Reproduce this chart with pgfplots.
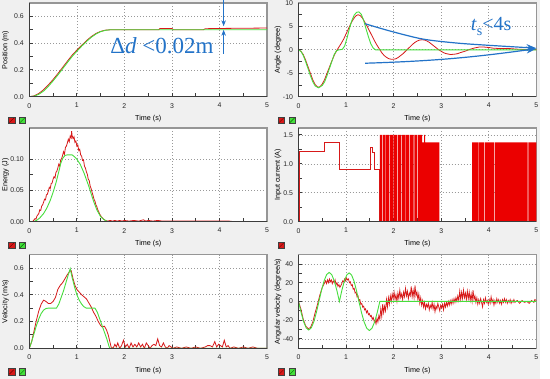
\documentclass[border=0pt]{standalone}
\usepackage{fontspec}
\setmainfont{Liberation Sans}
\newfontfamily\annotfont{Liberation Serif}
\usepackage{pgfplots}
\pgfplotsset{compat=1.18}
\usetikzlibrary{arrows.meta}
\definecolor{cred}{RGB}{215,25,25}
\definecolor{cfill}{RGB}{235,0,0}
\definecolor{cgreen}{RGB}{70,222,60}
\definecolor{cblue}{RGB}{35,115,200}
\definecolor{bg}{RGB}{240,240,240}
\definecolor{framegray}{RGB}{150,150,150}
\definecolor{axdark}{RGB}{60,60,60}
\tikzset{annot/.style={cblue, line width=1.2pt}}
\pgfplotsset{
  panel/.style={
    scale only axis, width=237.8pt, height=93.7pt, anchor=south west,
    xmin=0, xmax=5, xtick={0,1,2,3,4,5}, minor x tick num=1, minor y tick num=1,
    tick align=inside, tick pos=left,
    major tick length=3.5pt, minor tick length=3.5pt,
    every tick/.style={draw=axdark, line width=0.9pt},
    grid=major,
    major grid style={draw=gray!80, line width=0.7pt, dash pattern=on 0.8pt off 2.2pt},
    axis line style={draw=framegray, line width=1.2pt},
    axis background/.style={fill=white},
    ticklabel style={font=\fontsize{6.9}{8}\selectfont, text=black!85},
    xticklabel style={yshift=-3pt},
    yticklabel style={xshift=-2pt},
    /pgf/number format/assume math mode=true,
    xlabel={Time (s)},
    xlabel style={font=\fontsize{7.2}{8}\selectfont, at={(axis description cs:0.5,-0.238)}, anchor=center},
    ylabel style={font=\fontsize{7.2}{8}\selectfont, anchor=center},
    clip mode=individual,
    legend columns=2,
    legend style={draw=none, fill=none, inner sep=0pt, outer sep=0pt, anchor=north west,
      nodes={inner sep=0pt, outer sep=0pt},
      /tikz/every even column/.append style={column sep=2.6pt}},
    after end axis/.code={\draw[axdark, line width=1.2pt] (rel axis cs:0,1) -- (rel axis cs:0,0) -- (rel axis cs:1,0);},
  },
  leftcol/.style={panel, ylabel style={at={(axis description cs:-0.1,0.5)}},
    legend style={at={(axis description cs:-0.0897,-0.214)}}},
  rightcol/.style={panel, ylabel style={at={(axis description cs:-0.086,0.5)}},
    legend style={at={(axis description cs:-0.0873,-0.214)}}},
  redleg/.style={legend image code/.code={
    \filldraw[fill=cred, draw=black!75, line width=0.6pt] (0pt,-3.3pt) rectangle (6.6pt,3.3pt);
    \draw[red!40!black, line width=0.4pt] (1pt,-2.3pt) -- (5.6pt,2.3pt);}},
  greenleg/.style={legend image code/.code={
    \filldraw[fill=cgreen, draw=black!75, line width=0.6pt] (0pt,-3.3pt) rectangle (6.6pt,3.3pt);
    \draw[green!40!black, line width=0.4pt] (1pt,-2.3pt) -- (5.6pt,2.3pt);}},
  rline/.style={cred, line width=0.8pt},
  gline/.style={cgreen, line width=0.9pt},
}
\begin{document}
\begin{tikzpicture}[x=1pt,y=1pt]
\path[use as bounding box, fill=bg] (0,0) rectangle (550,-379);
\fill[white] (539.5,0) rectangle (550,-379);

% ---------- Position ----------
\begin{axis}[leftcol, at={(29.3pt,-96.7pt)}, ymin=0, ymax=0.7, ytick={0,0.2,0.4,0.6},
  ylabel={Position (m)},
  yticklabel style={/pgf/number format/fixed, /pgf/number format/fixed zerofill, /pgf/number format/precision=1}]
\addplot[rline, redleg] coordinates {(0,0) (0.1,0.006) (0.2,0.024) (0.3,0.052) (0.4,0.088) (0.5,0.128) (0.6,0.172) (0.7,0.218) (0.8,0.265) (0.9,0.31) (1.0,0.348) (1.1,0.383) (1.2,0.418) (1.3,0.448) (1.4,0.472) (1.5,0.488) (1.6,0.497) (1.7,0.5) (2.72,0.5) (2.75,0.51) (3.0,0.51) (3.03,0.5) (3.66,0.5) (3.7,0.508) (4.05,0.51) (5,0.513)};
\addlegendentry{\mbox{}}
\addplot[gline, greenleg] coordinates {(0,0) (0.1,0.004) (0.2,0.018) (0.3,0.042) (0.4,0.077) (0.5,0.118) (0.6,0.162) (0.7,0.208) (0.8,0.255) (0.9,0.3) (1.0,0.34) (1.1,0.377) (1.2,0.412) (1.3,0.443) (1.4,0.468) (1.5,0.486) (1.6,0.496) (1.7,0.5) (5,0.5)};
\addlegendentry{\mbox{}}
\draw[annot, -{Stealth[length=6pt,width=4.5pt]}] (axis cs:4.086,0.73) -- (axis cs:4.086,0.526);
\draw[annot, -{Stealth[length=6pt,width=4.5pt]}] (axis cs:4.086,0.32) -- (axis cs:4.086,0.5);
\node[anchor=base west, inner sep=0pt, text=cblue, font=\annotfont\fontsize{23}{23}\selectfont] at (axis cs:1.70,0.323) {Δ\textit{d} <0.02m};
\end{axis}

% ---------- Angle ----------
\begin{axis}[rightcol, at={(298.5pt,-96.7pt)}, ymin=-10, ymax=10, ytick={-10,-5,0,5,10},
  ylabel={Angle (degree)}]
\addplot[rline, redleg] coordinates {(0,0) (0.05,-0.3) (0.1,-1.0) (0.15,-2.2) (0.2,-3.6) (0.25,-5.0) (0.3,-6.4) (0.35,-7.4) (0.4,-7.95) (0.45,-7.9) (0.5,-7.3) (0.55,-6.3) (0.6,-5.0) (0.65,-3.7) (0.7,-2.4) (0.75,-1.2) (0.8,-0.2) (0.85,0.6) (0.9,1.4) (0.95,2.3) (1.0,3.4) (1.05,4.5) (1.1,5.6) (1.15,6.5) (1.2,7.2) (1.25,7.5) (1.3,7.3) (1.35,6.7) (1.4,5.8) (1.45,4.9) (1.5,3.9) (1.55,2.9) (1.6,1.9) (1.65,1.0) (1.7,0.2) (1.75,-0.6) (1.8,-1.2) (1.85,-1.6) (1.9,-1.9) (1.95,-2.0) (2.0,-2.0) (2.05,-1.9) (2.1,-1.6) (2.15,-1.2) (2.2,-0.8) (2.25,-0.3) (2.3,0.2) (2.35,0.7) (2.4,1.2) (2.45,1.6) (2.5,1.9) (2.55,2.1) (2.6,2.15) (2.65,2.1) (2.7,1.9) (2.75,1.6) (2.8,1.2) (2.85,0.8) (2.9,0.4) (2.95,0.0) (3.0,-0.3) (3.05,-0.6) (3.1,-0.8) (3.15,-0.9) (3.2,-1.0) (3.3,-0.9) (3.35,-0.8) (3.4,-0.6) (3.5,-0.3) (3.6,0.1) (3.7,0.4) (3.8,0.6) (3.9,0.6) (4.0,0.5) (4.1,0.35) (4.2,0.3) (4.4,0.3) (4.6,0.15) (4.8,0.05) (5,0.05)};
\addlegendentry{\mbox{}}
\addplot[gline, greenleg] coordinates {(0,0) (0.05,-0.3) (0.1,-1.2) (0.15,-2.5) (0.2,-4.0) (0.25,-5.5) (0.3,-6.8) (0.35,-7.7) (0.42,-8.1) (0.5,-7.6) (0.55,-6.8) (0.6,-5.5) (0.65,-4.0) (0.7,-2.5) (0.75,-1.0) (0.8,-0.2) (0.85,0) (0.92,0.1) (0.97,0.8) (1.02,2.5) (1.07,4.5) (1.12,6.2) (1.17,7.4) (1.22,8.0) (1.27,8.1) (1.32,7.6) (1.37,6.3) (1.42,4.5) (1.47,2.8) (1.52,1.3) (1.57,0.4) (1.62,0) (5,0)};
\addlegendentry{\mbox{}}
\draw[annot, -{Stealth[length=10pt,width=7pt]}] plot[smooth] coordinates {(axis cs:1.40,5.57) (axis cs:1.96,3.92) (axis cs:2.62,2.29) (axis cs:3.35,1.43) (axis cs:4.06,0.93) (axis cs:4.6,0.6) (axis cs:5.0,0.35)};
\draw[annot, -{Stealth[length=10pt,width=7pt]}] (axis cs:1.40,-2.86) to[bend right=3] (axis cs:5.0,0.25);
\node[anchor=base west, inner sep=0pt, text=cblue, font=\annotfont\fontsize{20}{20}\selectfont] at (axis cs:3.62,4.1) {\textit{t}\raisebox{-0.26em}{\fontsize{14}{14}\selectfont s}<4s};
\end{axis}

% ---------- Energy ----------
\begin{axis}[leftcol, at={(29.3pt,-221.7pt)}, ymin=0, ymax=0.15, ytick={0,0.05,0.10},
  ylabel={Energy (J)},
  yticklabel style={/pgf/number format/fixed, /pgf/number format/fixed zerofill, /pgf/number format/precision=2}]
\addplot[rline, redleg] coordinates {(0,0) (0.06,0) (0.08,0.001) (0.10,0.003) (0.12,0.005) (0.14,0.004) (0.16,0.009) (0.18,0.011) (0.20,0.013) (0.22,0.019) (0.24,0.018) (0.26,0.025) (0.28,0.027) (0.30,0.031) (0.32,0.036) (0.34,0.035) (0.36,0.043) (0.38,0.044) (0.40,0.049) (0.42,0.055) (0.44,0.053) (0.46,0.061) (0.48,0.062) (0.50,0.068) (0.52,0.072) (0.54,0.070) (0.56,0.079) (0.58,0.081) (0.60,0.086) (0.62,0.092) (0.64,0.089) (0.66,0.099) (0.68,0.101) (0.70,0.106) (0.72,0.112) (0.74,0.108) (0.76,0.119) (0.78,0.121) (0.80,0.126) (0.82,0.132) (0.84,0.128) (0.86,0.137) (0.88,0.134) (0.89,0.145) (0.90,0.138) (0.92,0.133) (0.94,0.136) (0.96,0.127) (0.98,0.129) (1.00,0.121) (1.02,0.123) (1.04,0.114) (1.06,0.116) (1.08,0.107) (1.10,0.105) (1.12,0.098) (1.14,0.099) (1.16,0.089) (1.18,0.086) (1.20,0.080) (1.22,0.076) (1.24,0.068) (1.26,0.066) (1.28,0.057) (1.30,0.053) (1.32,0.047) (1.34,0.042) (1.36,0.036) (1.38,0.033) (1.40,0.027) (1.42,0.024) (1.44,0.019) (1.46,0.016) (1.48,0.012) (1.50,0.010) (1.52,0.007) (1.54,0.006) (1.56,0.004) (1.58,0.003) (1.60,0.002) (1.65,0.001) (1.70,0.002) (1.75,0.001) (1.8,0.002) (1.85,0.001) (1.9,0.002) (1.95,0.001) (2.0,0.002) (2.1,0.001) (2.2,0.002) (2.3,0.001) (2.4,0.003) (2.45,0.001) (2.5,0.002) (2.6,0.001) (2.7,0.002) (2.8,0.001) (3.0,0.001) (3.2,0.001) (3.5,0.001) (3.8,0.001) (4.0,0.001) (4.2,0.001) (4.3,0) (5,0)};
\addlegendentry{\mbox{}}
\addplot[gline, greenleg] coordinates {(0,0) (0.08,0) (0.15,0.002) (0.22,0.006) (0.3,0.013) (0.37,0.022) (0.44,0.034) (0.5,0.047) (0.56,0.062) (0.62,0.08) (0.66,0.093) (0.7,0.101) (0.75,0.106) (0.8,0.107) (0.9,0.107) (0.95,0.104) (1.0,0.1) (1.07,0.092) (1.15,0.078) (1.25,0.057) (1.35,0.033) (1.42,0.019) (1.5,0.008) (1.56,0.004) (1.62,0.001) (1.67,0) (5,0)};
\addlegendentry{\mbox{}}
\end{axis}

% ---------- Input current ----------
\begin{axis}[rightcol, at={(298.5pt,-221.7pt)}, ymin=0, ymax=1.62, ytick={0,0.5,1,1.5},
  ylabel={Input current (A)},
  yticklabel style={/pgf/number format/fixed, /pgf/number format/fixed zerofill, /pgf/number format/precision=1}]
\addplot[rline, line width=0.7pt, const plot, redleg] coordinates {(0,0) (0.015,1.22) (0.55,1.37) (0.85,0.9) (1.52,1.29) (1.56,1.2) (1.6,0.9) (1.69,0) (5,0)};
\addlegendentry{\mbox{}}
\addplot[const plot, fill=cfill, draw=none, forget plot] coordinates {(1.69,0) (1.71,1.5) (1.755,0) (1.77,1.5) (1.83,0) (1.845,1.5) (1.9,0) (1.915,1.5) (1.99,0) (2.0,1.5) (2.07,0) (2.085,1.5) (2.16,0) (2.175,1.5) (2.25,0) (2.265,1.5) (2.33,0) (2.345,1.5) (2.42,0) (2.435,1.5) (2.5,0) (2.515,1.5) (2.6,1.37) (2.64,1.5) (2.66,1.37) (2.96,0) (3.65,1.37) (3.78,0) (3.795,1.37) (3.91,0) (3.925,1.37) (4.12,0) (4.135,1.37) (4.82,0) (4.835,1.37) (5,1.37)} \closedcycle;
\end{axis}

% ---------- Velocity ----------
\begin{axis}[leftcol, at={(29.3pt,-348.3pt)}, ymin=0, ymax=0.7, ytick={0,0.2,0.4,0.6},
  ylabel={Velocity (m/s)},
  yticklabel style={/pgf/number format/fixed, /pgf/number format/fixed zerofill, /pgf/number format/precision=1}]
\addplot[rline, redleg] coordinates {(0,0) (0.05,0.05) (0.1,0.13) (0.15,0.21) (0.2,0.28) (0.25,0.33) (0.3,0.36) (0.35,0.35) (0.4,0.335) (0.45,0.335) (0.5,0.35) (0.55,0.38) (0.6,0.44) (0.65,0.47) (0.7,0.49) (0.75,0.52) (0.8,0.55) (0.85,0.575) (0.88,0.58) (0.92,0.52) (0.96,0.47) (1.0,0.44) (1.05,0.42) (1.1,0.4) (1.15,0.385) (1.2,0.37) (1.25,0.34) (1.3,0.31) (1.35,0.27) (1.4,0.24) (1.45,0.2) (1.5,0.17) (1.53,0.16) (1.58,0.165) (1.62,0.14) (1.66,0.1) (1.7,0.04) (1.72,0.01) (1.76,0.0) (1.8,0.03) (1.83,0.01) (1.86,0.04) (1.9,0.0) (1.94,0.02) (1.98,0.06) (2.02,0.01) (2.06,0.03) (2.1,0.0) (2.14,0.04) (2.18,0.01) (2.22,0.03) (2.26,0.01) (2.3,0.04) (2.34,0.01) (2.38,0.03) (2.42,0.0) (2.46,0.04) (2.5,0.02) (2.54,0.0) (2.58,0.02) (2.62,0.03) (2.66,0.02) (2.7,0.07) (2.74,0.02) (2.78,0.01) (2.82,0.04) (2.86,0.01) (2.9,0.0) (2.94,0.02) (2.98,0.01) (3.02,0.0) (3.1,0.01) (3.2,0.0) (3.3,0.01) (3.4,0.0) (3.5,0.01) (3.6,0.0) (3.7,0.01) (3.75,0.02) (3.8,0.02) (3.85,0.01) (3.9,0.05) (3.94,0.01) (3.98,0.03) (4.02,0.02) (4.06,0.01) (4.1,0.06) (4.14,0.01) (4.18,0.02) (4.22,0.0) (4.3,0.01) (4.4,0.0) (4.5,0.01) (4.6,0.0) (4.7,0.01) (4.8,0.0) (5,0)};
\addlegendentry{\mbox{}}
\addplot[gline, greenleg] coordinates {(0,0) (0.05,0.05) (0.1,0.11) (0.15,0.17) (0.2,0.22) (0.25,0.26) (0.3,0.285) (0.35,0.297) (0.4,0.3) (0.57,0.3) (0.62,0.33) (0.67,0.38) (0.72,0.43) (0.77,0.49) (0.82,0.55) (0.86,0.595) (0.9,0.53) (0.95,0.46) (1.0,0.4) (1.05,0.36) (1.1,0.33) (1.15,0.31) (1.2,0.3) (1.38,0.3) (1.43,0.27) (1.48,0.22) (1.53,0.17) (1.58,0.12) (1.63,0.07) (1.68,0.01) (1.7,0) (5,0)};
\addlegendentry{\mbox{}}
\end{axis}

% ---------- Angular velocity ----------
\begin{axis}[rightcol, at={(298.5pt,-348.3pt)}, ymin=-50, ymax=50, ytick={-40,-20,0,20,40},
  ylabel={Angular velocity (degree/s)}]
\addplot[rline, line width=0.75pt, redleg] coordinates {(0,0) (0.05,-8) (0.1,-19) (0.15,-26) (0.2,-29) (0.25,-28) (0.3,-22) (0.35,-12) (0.4,-3) (0.45,7) (0.5,15) (0.55,20) (0.57,22) (0.59,19) (0.61,23) (0.63,20) (0.65,24) (0.67,21) (0.69,23) (0.71,19) (0.73,22) (0.75,20) (0.77,23) (0.79,18) (0.81,20) (0.83,16) (0.85,18) (0.87,15) (0.89,17) (0.91,19) (0.93,22) (0.95,21) (0.97,24) (0.99,22) (1.01,25) (1.03,23) (1.05,24) (1.07,20) (1.09,21) (1.11,17) (1.13,18) (1.15,13) (1.17,14) (1.19,9) (1.21,10) (1.23,5) (1.25,6) (1.27,1) (1.29,2) (1.31,-3) (1.33,-2) (1.35,-6) (1.37,-5) (1.39,-9) (1.41,-8) (1.43,-12) (1.45,-10) (1.47,-14) (1.49,-13) (1.51,-16) (1.53,-15) (1.55,-19) (1.57,-17) (1.59,-21) (1.61,-20) (1.63,-24) (1.65,-18) (1.67,-22) (1.69,-15) (1.71,-19) (1.73,-8) (1.75,-16) (1.77,-3) (1.79,-12) (1.81,-5) (1.83,-10) (1.85,2) (1.87,-6) (1.89,4) (1.91,-3) (1.93,6) (1.95,0) (1.97,8) (1.99,3) (2.01,10) (2.03,2) (2.05,7) (2.07,0) (2.09,9) (2.11,3) (2.13,12) (2.15,4) (2.17,8) (2.19,2) (2.21,10) (2.23,5) (2.25,14) (2.27,6) (2.29,11) (2.31,3) (2.33,9) (2.35,6) (2.37,16) (2.39,5) (2.41,12) (2.43,4) (2.45,17) (2.47,6) (2.49,10) (2.51,2) (2.53,8) (2.55,-2) (2.57,4) (2.59,-4) (2.61,1) (2.63,-6) (2.65,-1) (2.67,-8) (2.69,-3) (2.71,-6) (2.73,-2) (2.75,-9) (2.77,-4) (2.79,-7) (2.81,-1) (2.83,-8) (2.85,-3) (2.87,-11) (2.89,-5) (2.91,-8) (2.93,-2) (2.95,-6) (2.97,-10) (2.99,-4) (3.01,-7) (3.03,-3) (3.05,-9) (3.07,-2) (3.09,-6) (3.11,-1) (3.13,-5) (3.15,0) (3.17,-4) (3.19,1) (3.21,-3) (3.23,2) (3.25,-2) (3.27,3) (3.29,-1) (3.31,4) (3.33,0) (3.35,6) (3.37,1) (3.39,11) (3.41,2) (3.43,10) (3.45,3) (3.47,12) (3.49,4) (3.51,9) (3.53,2) (3.55,11) (3.57,3) (3.59,10) (3.61,1) (3.63,8) (3.65,0) (3.67,12) (3.69,2) (3.71,6) (3.73,-1) (3.75,4) (3.77,-3) (3.79,2) (3.81,-2) (3.83,3) (3.85,-1) (3.87,-6) (3.89,2) (3.91,-2) (3.93,4) (3.95,-1) (3.97,1) (3.99,-3) (4.01,2) (4.03,-2) (4.05,5) (4.07,-1) (4.09,2) (4.11,-4) (4.13,1) (4.15,-2) (4.17,3) (4.19,-1) (4.21,2) (4.23,-2) (4.25,1) (4.27,-3) (4.29,2) (4.31,-1) (4.33,3) (4.35,-1) (4.37,2) (4.39,-2) (4.41,1) (4.43,-1) (4.45,2) (4.47,-2) (4.49,1) (4.51,-1) (4.53,2) (4.55,-1) (4.57,0) (4.6,1) (4.65,-2) (4.7,1) (4.75,-1) (4.8,0) (4.85,-2) (4.9,1) (4.95,-1) (4.97,2) (5,1)};
\addlegendentry{\mbox{}}
\addplot[gline, greenleg] coordinates {(0,0) (0.054,-11.7) (0.108,-21.6) (0.161,-28.2) (0.215,-30.5) (0.269,-28.2) (0.323,-21.6) (0.376,-11.7) (0.43,0) (0.484,11.9) (0.538,21.9) (0.591,28.6) (0.645,31) (0.699,28.6) (0.753,21.9) (0.806,11.9) (0.86,0) (0.911,11.7) (0.963,21.6) (1.014,28.2) (1.065,30.5) (1.116,28.2) (1.168,21.6) (1.219,11.7) (1.27,0) (1.325,-11.9) (1.38,-21.9) (1.435,-28.6) (1.49,-31) (1.545,-28.6) (1.6,-21.9) (1.655,-11.9) (1.71,0) (5,0)};
\addlegendentry{\mbox{}}
\end{axis}
\end{tikzpicture}
\end{document}
